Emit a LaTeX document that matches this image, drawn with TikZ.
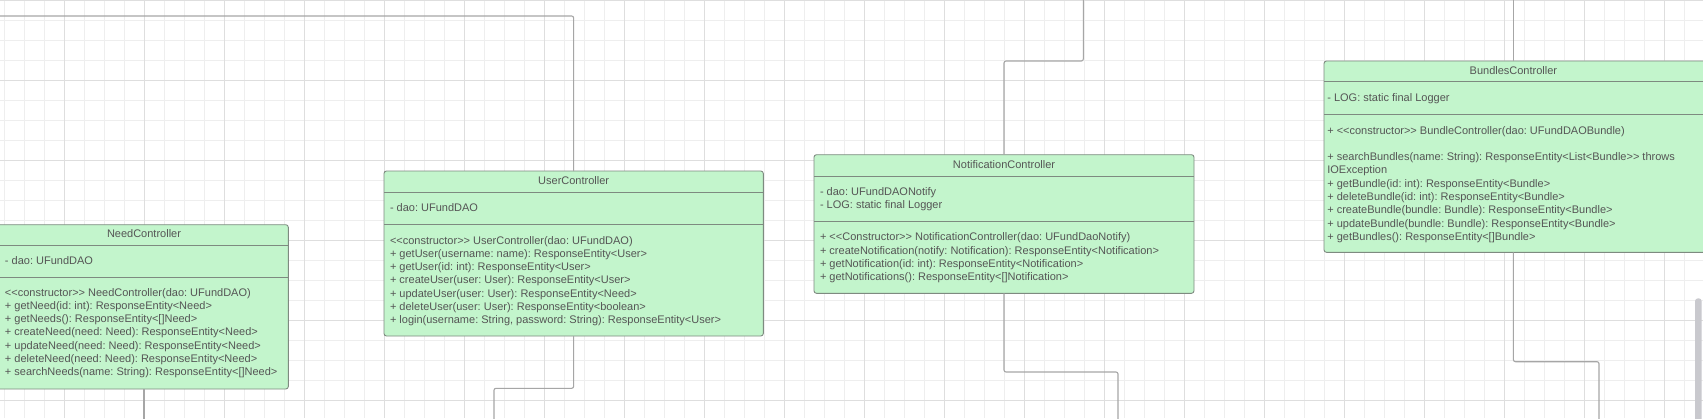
\documentclass[tikz,border=0pt]{standalone}
\usepackage{fontspec}
\newfontfamily\umlfont{Liberation Sans}[Ligatures=TeXOff]
\definecolor{boxfill}{HTML}{C3F5CC}
\definecolor{boxdraw}{HTML}{7E8A80}
\definecolor{txtcol}{HTML}{555555}
\definecolor{conncol}{HTML}{A6A6A6}
\definecolor{gridminor}{HTML}{EEEEEE}
\definecolor{gridmajor}{HTML}{DEDEDE}
\definecolor{scrollcol}{HTML}{C9C9CE}
\newcommand{\firststrut}{\rule{0pt}{11pt}}
\frenchspacing
\begin{document}
\begin{tikzpicture}[x=1pt,y=-1pt,
  classbox/.style={draw=boxdraw, fill=boxfill, line width=0.9pt, rounded corners=2.5pt, inner sep=0pt, outer sep=0pt},
  sepline/.style={draw=boxdraw, line width=0.9pt},
  txt/.style={font=\umlfont\frenchspacing\fontsize{11}{13.3}\selectfont, text=txtcol, inner sep=0pt, outer sep=0pt},
  title/.style={txt, anchor=base},
  member/.style={txt, anchor=north west, align=left},
  conn/.style={draw=conncol, line width=1.1pt, rounded corners=2pt},
  minorgrid/.style={draw=gridminor, line width=0.8pt},
  majorgrid/.style={draw=gridmajor, line width=0.9pt}]
\useasboundingbox (0,0) rectangle (1703,418);
\clip (0,0) rectangle (1703,418);
\fill[white] (0,0) rectangle (1703,418);
% grid
\foreach \i in {0,...,85} \draw[minorgrid] ({4.3+20*\i},0) -- ++(0,418);
\foreach \j in {0,...,21} \draw[minorgrid] (0,{0.7+20*\j}) -- ++(1703,0);
\foreach \i in {0,...,21} \draw[majorgrid] ({64.3+80*\i},0) -- ++(0,418);
\foreach \j in {0,...,5} \draw[majorgrid] (0,{0.7+80*\j}) -- ++(1703,0);
% scrollbar
\fill[scrollcol, rounded corners=3pt] (1695,298.3) rectangle (1701.7,430);

% free ends of connectors
\coordinate (userTopEnd) at (-5,16);
\coordinate (userBotEnd) at (494,425);
\coordinate (needBotEnd) at (144,425);
\coordinate (notifTopEnd) at (1083.3,-5);
\coordinate (notifBotEnd) at (1118,425);
\coordinate (bundTopEnd) at (1513.4,-5);
\coordinate (bundBotEnd) at (1599,425);

% ---------- NeedController
\node[classbox, anchor=north west, minimum width=291.3pt, minimum height=164.3pt] (need) at (-3,224.7) {};
\draw[sepline] (-3,245) -- (288.3,245);
\draw[sepline] (-3,277.3) -- (288.3,277.3);
\node[title] (need-t) at (144,237.3) {NeedController};
\node[member] (need-a) at (5,253.7) {\firststrut- dao: UFundDAO};
\node[member] (need-m) at (5,285) {\firststrut<<constructor>> NeedController(dao: UFundDAO)\\
+ getNeed(id: int): ResponseEntity<Need>\\
+ getNeeds(): ResponseEntity<[]Need>\\
+ createNeed(need: Need): ResponseEntity<Need>\\
+ updateNeed(need: Need): ResponseEntity<Need>\\
+ deleteNeed(need: Need): ResponseEntity<Need>\\
+ searchNeeds(name: String): ResponseEntity<[]Need>};

% ---------- UserController
\node[classbox, anchor=north west, minimum width=379.3pt, minimum height=165pt] (user) at (384,171) {};
\draw[sepline] (384,192.3) -- (763.3,192.3);
\draw[sepline] (384,224.3) -- (763.3,224.3);
\node[title] (user-t) at (573.65,184) {UserController};
\node[member] (user-a) at (390,200.7) {\firststrut- dao: UFundDAO};
\node[member] (user-m) at (390,233) {\firststrut<<constructor>> UserController(dao: UFundDAO)\\
+ getUser(username: name): ResponseEntity<User>\\
+ getUser(id: int): ResponseEntity<User>\\
+ createUser(user: User): ResponseEntity<User>\\
+ updateUser(user: User): ResponseEntity<Need>\\
+ deleteUser(user: User): ResponseEntity<boolean>\\
+ login(username: String, password: String): ResponseEntity<User>};

% ---------- NotificationController
\node[classbox, anchor=north west, minimum width=380pt, minimum height=138.6pt] (notif) at (814,154.7) {};
\draw[sepline] (814,176) -- (1194,176);
\draw[sepline] (814,221) -- (1194,221);
\node[title] (notif-t) at (1004,168) {NotificationController};
\node[member] (notif-a) at (820,184) {\firststrut- dao: UFundDAONotify\\
- LOG: static final Logger};
\node[member] (notif-m) at (820,229.7) {\firststrut+ <<Constructor>> NotificationController(dao: UFundDaoNotify)\\
+ createNotification(notify: Notification): ResponseEntity<Notification>\\
+ getNotification(id: int): ResponseEntity<Notification>\\
+ getNotifications(): ResponseEntity<[]Notification>};

% ---------- BundlesController
\node[classbox, anchor=north west, minimum width=382pt, minimum height=191.3pt] (bund) at (1324,61) {};
\draw[sepline] (1324,81.7) -- (1706,81.7);
\draw[sepline] (1324,114.3) -- (1706,114.3);
\node[title] (bund-t) at (1513.4,74) {BundlesController};
\node[member] (bund-a) at (1327.3,90.3) {\firststrut- LOG: static final Logger};
\node[member] (bund-c) at (1327.3,123) {\firststrut+ <<constructor>> BundleController(dao: UFundDAOBundle)};
\node[member] (bund-m) at (1327.3,149.6) {\firststrut+ searchBundles(name: String): ResponseEntity<List<Bundle>> throws\\
IOException\\
+ getBundle(id: int): ResponseEntity<Bundle>\\
+ deleteBundle(id: int): ResponseEntity<Bundle>\\
+ createBundle(bundle: Bundle): ResponseEntity<Bundle>\\
+ updateBundle(bundle: Bundle): ResponseEntity<Bundle>\\
+ getBundles(): ResponseEntity<[]Bundle>};

% ---------- connectors
\draw[conn] (user.north) |- (userTopEnd);
\draw[conn] (user.south) -- ++(0,52.3) -| (userBotEnd);
\draw[conn] (needBotEnd |- need.south) -- (needBotEnd);
\draw[conn] (notif.north) -- ++(0,-93.7) -| (notifTopEnd);
\draw[conn] (notif.south) -- ++(0,78.7) -| (notifBotEnd);
\draw[conn] (bundTopEnd |- bund.north) -- (bundTopEnd);
\draw[conn] (bundTopEnd |- bund.south) -- ++(0,109.4) -| (bundBotEnd);
\end{tikzpicture}
\end{document}
